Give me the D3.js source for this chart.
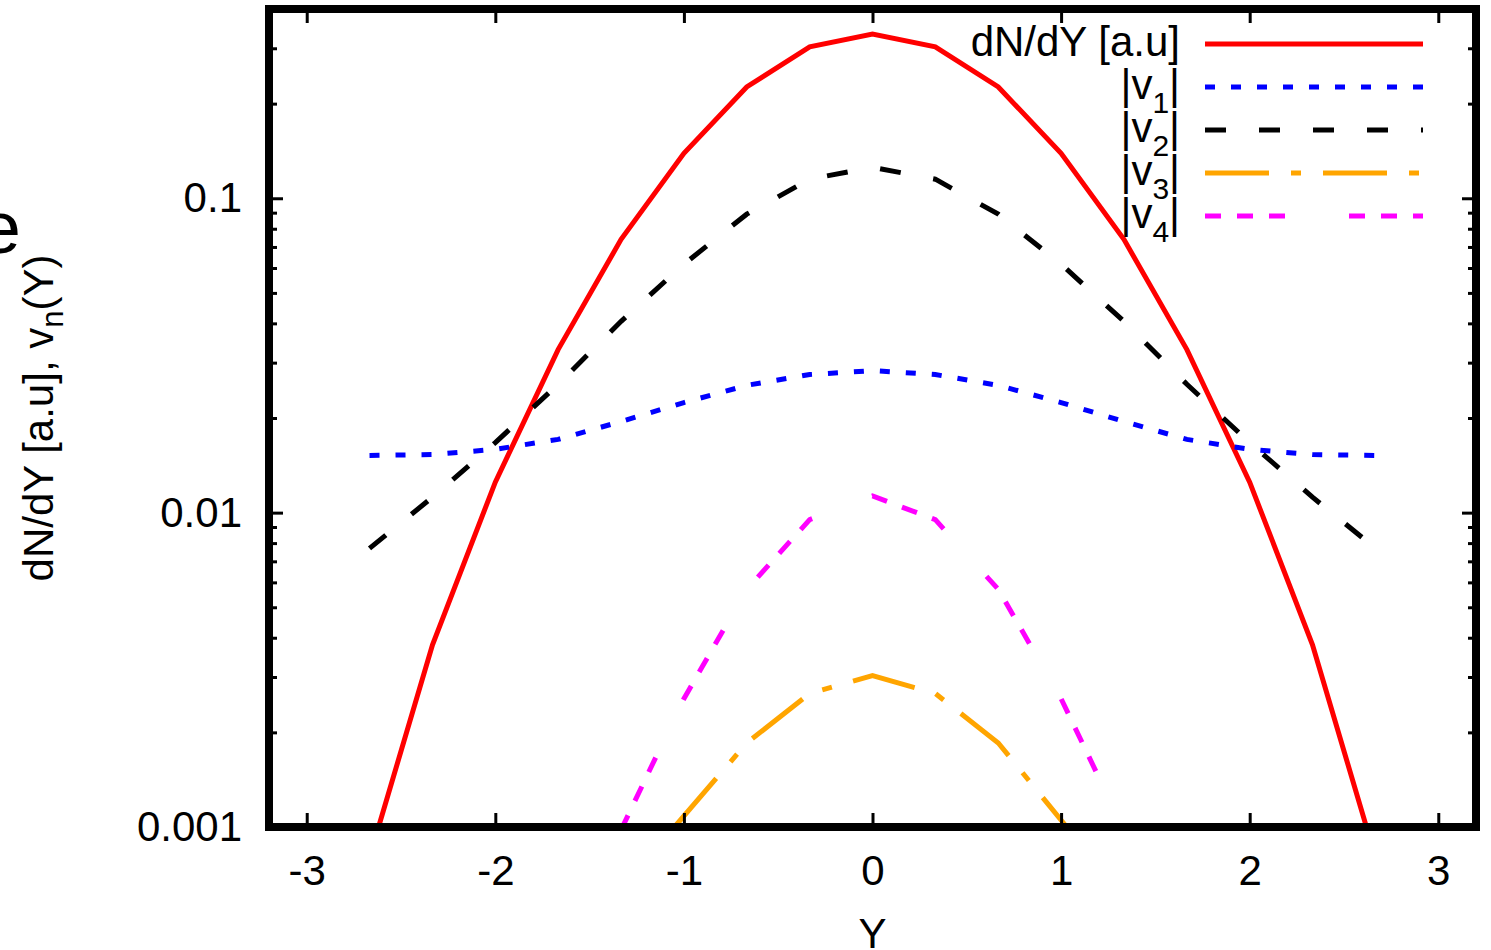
<!DOCTYPE html>
<html><head><meta charset="utf-8">
<script src="https://cdn.jsdelivr.net/npm/d3@7"></script>
<style>
body{margin:0;background:#fff}
text{font-family:"Liberation Sans",Arial,Helvetica,sans-serif;fill:#000}
</style>
</head><body><svg id="c" width="1491" height="950"></svg>
<script>
// ---- data ----
const yGrid = [-2.667,-2.333,-2,-1.667,-1.333,-1,-0.667,-0.333,0,0.333,0.667,1,1.333,1.667,2,2.333,2.667];
const dNdY  = [0.0008,0.0038,0.0125,0.033,0.074,0.139,0.226,0.303,0.333,0.303,0.226,0.139,0.074,0.033,0.0125,0.0038,0.0008];
const v1    = [0.0152,0.0153,0.0159,0.0171,0.0195,0.0224,0.0254,0.0275,0.0283,0.0275,0.0254,0.0224,0.0195,0.0171,0.0159,0.0153,0.0152];
const v2    = [0.0077,0.0112,0.0167,0.0256,0.0406,0.0617,0.089,0.115,0.1255,0.115,0.089,0.0617,0.0406,0.0256,0.0167,0.0112,0.0077];
const yGridV3 = [-1.05,-0.667,-0.333,0,0.333,0.667,1.03];
const v3    = [0.001,0.00185,0.00266,0.00303,0.00266,0.00185,0.001];
const yGridV4 = [-1.333,-1,-0.667,-0.333,0,0.333,0.667,1,1.333];
const v4    = [0.00098,0.00256,0.0057,0.0095,0.0113,0.0095,0.0057,0.00256,0.00098];
const xTicks = [-3,-2,-1,0,1,2,3];
const yMajorTicks = [0.001,0.01,0.1];
const yTickLabels = ["0.001","0.01","0.1"];
const legendLabels = ["dN/dY [a.u]","1","2","3","4"];

// ---- layout ----
const L=269, R=1476, T=9, B=827;
const svg = d3.select("#c");
const x = d3.scaleLinear([-3.2,3.2],[L,R]);
const y = d3.scaleLog([0.001,0.4],[B,T]);
const FS = 42;

const series = [
  {xs:yGrid, ys:dNdY, color:"#ff0000", dash:null, w:5},
  {xs:yGrid, ys:v1, color:"#0000ff", dash:"10,16", w:5},
  {xs:yGrid, ys:v2, color:"#000000", dash:"21,33", w:5},
  {xs:yGridV3, ys:v3, color:"#ffa500", dash:"64,22,10,22", w:5},
  {xs:yGridV4, ys:v4, color:"#ff00ff", dash:"16,16,16,16,16,64", w:5}
];

svg.append("defs").append("clipPath").attr("id","clip")
  .append("rect").attr("x",L).attr("y",T).attr("width",R-L).attr("height",B-T);

const line = d3.line().x(d=>x(d[0])).y(d=>y(d[1]));
const g = svg.append("g").attr("clip-path","url(#clip)");
series.forEach(s=>{
  g.append("path").datum(s.xs.map((v,i)=>[v,s.ys[i]]))
   .attr("d",line).attr("fill","none").attr("stroke",s.color)
   .attr("stroke-width",s.w).attr("stroke-dasharray",s.dash)
   .attr("stroke-linejoin","miter");
});

// ---- axes ----
const yAll = y.ticks().filter(v=>v>=0.001 && v<=0.4);
const yMinor = yAll.filter(v=>Math.abs(Math.log10(v)-Math.round(Math.log10(v)))>1e-6);

function styleAxis(sel){
  sel.select(".domain").remove();
  sel.selectAll(".tick line").attr("stroke","#000").attr("stroke-width",3);
  sel.selectAll(".tick text").style("font-size",FS+"px").attr("fill","#000");
}
// bottom
svg.append("g").attr("transform",`translate(0,${B})`)
  .call(d3.axisBottom(x).tickValues(xTicks).tickSizeInner(-14).tickSizeOuter(0).tickPadding(28).tickFormat(d=>String(d)))
  .call(styleAxis).attr("font-family",null).attr("font-size",null);
// top
svg.append("g").attr("transform",`translate(0,${T})`)
  .call(d3.axisTop(x).tickValues(xTicks).tickSizeInner(-14).tickSizeOuter(0).tickFormat(""))
  .call(styleAxis);
// left major
svg.append("g").attr("transform",`translate(${L},0)`)
  .call(d3.axisLeft(y).tickValues(yMajorTicks).tickSizeInner(-14).tickSizeOuter(0).tickPadding(27)
    .tickFormat((d,i)=>yTickLabels[i]))
  .call(styleAxis).attr("font-family",null).attr("font-size",null);
// left minor
svg.append("g").attr("transform",`translate(${L},0)`)
  .call(d3.axisLeft(y).tickValues(yMinor).tickSizeInner(-8).tickSizeOuter(0).tickFormat(""))
  .call(styleAxis);
// right major + minor
svg.append("g").attr("transform",`translate(${R},0)`)
  .call(d3.axisRight(y).tickValues(yMajorTicks).tickSizeInner(-14).tickSizeOuter(0).tickFormat(""))
  .call(styleAxis);
svg.append("g").attr("transform",`translate(${R},0)`)
  .call(d3.axisRight(y).tickValues(yMinor).tickSizeInner(-8).tickSizeOuter(0).tickFormat(""))
  .call(styleAxis);

// border
svg.append("rect").attr("x",L).attr("y",T).attr("width",R-L).attr("height",B-T)
  .attr("fill","none").attr("stroke","#000").attr("stroke-width",8);

// ---- legend ----
const legY = d3.scalePoint().domain(d3.range(5)).range([44,216]);
const lx1=1205, lx2=1423, tx=1180;
series.forEach((s,i)=>{
  svg.append("line").attr("x1",lx1).attr("x2",lx2).attr("y1",legY(i)).attr("y2",legY(i))
    .attr("stroke",s.color).attr("stroke-width",s.w).attr("stroke-dasharray",s.dash);
  const t = svg.append("text").attr("x",tx).attr("y",legY(i)+12).attr("text-anchor","end")
    .style("font-size",FS+"px");
  if(i===0){ t.text(legendLabels[0]); }
  else {
    t.append("tspan").text("|v");
    t.append("tspan").attr("dy",14).style("font-size","30px").text(legendLabels[i]);
    t.append("tspan").attr("dy",-14).text("|");
  }
});

// ---- axis titles ----
const yl = svg.append("text").attr("transform",`translate(53,${(T+B)/2}) rotate(-90)`)
  .attr("text-anchor","middle").style("font-size",FS+"px");
yl.append("tspan").text("dN/dY [a.u], v");
yl.append("tspan").attr("dy",10).style("font-size","31px").text("n");
yl.append("tspan").attr("dy",-10).text("(Y)");

svg.append("text").attr("x",(L+R)/2).attr("y",948).attr("text-anchor","middle")
  .style("font-size",FS+"px").text("Y");

// cropped panel letter at left edge
svg.append("text").attr("x",21).attr("y",253).attr("text-anchor","end")
  .style("font-size","75px").text("e");
</script></body></html>
